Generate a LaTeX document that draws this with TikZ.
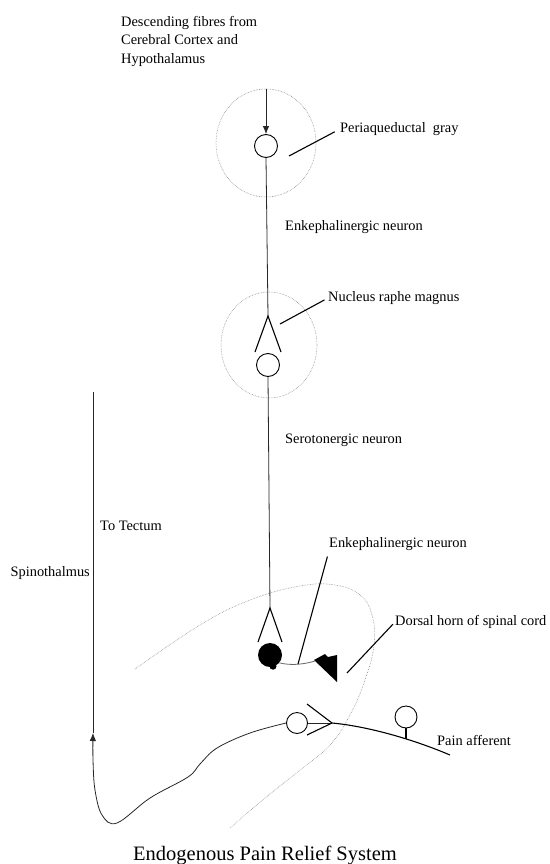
\documentclass[tikz,border=0pt]{standalone}
\usepackage{fontspec}
\setmainfont{Liberation Serif}
\usetikzlibrary{arrows.meta,shapes.geometric,calc}

\begin{document}
\begin{tikzpicture}[x=1pt,y=-1pt,
        RegionCfg/.style={
            ellipse,
            draw=black!45,
            densely dotted,
            line width=0.6pt,
            inner sep=0pt
        },
        SomaCfg/.style={circle,draw,line width=0.9pt,inner sep=0pt,minimum size=23pt},
        TxtCfg/.style={font=\fontsize{14.4}{18.5}\selectfont,inner sep=0pt},
        LeadCfg/.style={line width=1.1pt},
        AxonCfg/.style={draw=black!85,line width=0.8pt},
        DotCfg/.style={draw=black!45,densely dotted,line width=0.6pt}
    ]
    \useasboundingbox (0,0) rectangle (549,864);

    %descending fibres
    \node[TxtCfg,align=left,anchor=north west] (desc) at (121,16) {Descending fibres from\\Cerebral Cortex and\\Hypothalamus};
    \node[RegionCfg,minimum width=100pt,minimum height=108pt] (pag) at (266,143) {};
    \node[SomaCfg] (pagcell) at (266,146) {};
    \draw[AxonCfg,-{Latex[length=8pt,width=6.5pt]}] (pag.north)--(pagcell.north);
    \node[TxtCfg,anchor=west] (pagtxt) at (340,129) {Periaqueductal~ gray};
    \coordinate (pagpt) at (289,156);
    \draw[LeadCfg,shorten >=6pt] (pagpt)--(pagtxt.west);
    \node[TxtCfg,anchor=west] (enk1txt) at (285,227) {Enkephalinergic neuron};

    %nucleus raphe magnus
    \node[RegionCfg,minimum width=96pt,minimum height=106pt] (nrm) at (269,345) {};
    \coordinate (nrmY) at (268,316);
    \draw[AxonCfg] (pagcell.south)--(nrmY);
    \draw[LeadCfg] (nrmY)++(-13,36)--(nrmY)--++(13,36);
    \node[SomaCfg] (nrmcell) at (268,365) {};
    \node[TxtCfg,anchor=west] (nrmtxt) at (328,298) {Nucleus raphe magnus};
    \coordinate (nrmpt) at (280,324);
    \draw[LeadCfg,shorten >=4pt] (nrmpt)--(nrmtxt.west);
    \node[TxtCfg,anchor=west] (serotxt) at (285,440) {Serotonergic neuron};

    %dorsal horn
    \draw[DotCfg] plot[smooth,tension=0.7] coordinates {(135,669) (200,625) (250,600) (300,586) (335,585) (360,595) (372,615) (374,645) (365,680) (350,715) (330,745) (300,770) (265,798) (230,828)};
    \coordinate (dhY) at (270,608);
    \draw[AxonCfg] (nrmcell.south)--(dhY);
    \draw[LeadCfg] (dhY)++(-12,34)--(dhY)--++(12,34);
    \node[circle,fill,inner sep=0pt,minimum size=24pt] (enkcell) at (270,655) {};
    \fill (enkcell.south)++(3,-1) circle (3.5pt);
    \coordinate (synend) at (315,661);
    \draw[AxonCfg,draw=black!60] (enkcell.-40) .. controls (292,666) and (305,664) .. (synend);
    \fill (314,660)--++(11,-6)--++(3,3)--++(9,-2)--++(0,27)--cycle;
    \node[TxtCfg,anchor=west] (enk2txt) at (329,544) {Enkephalinergic neuron};
    \coordinate (enk2pt) at (298,664);
    \draw[LeadCfg,shorten >=6pt] (enk2pt)--(enk2txt.south west);
    \node[TxtCfg,anchor=west] (dhtxt) at (395,622) {Dorsal horn of spinal cord};
    \coordinate (dhpt) at (347,673);
    \draw[LeadCfg,shorten >=3pt] (dhpt)--(dhtxt.west);

    %pain afferent
    \node[SomaCfg,minimum size=21pt] (affcell) at (297,723) {};
    \coordinate (affY) at (332,723);
    \draw[AxonCfg] (affcell.east)--(affY);
    \draw[LeadCfg] (affY)--++(-25,-19) (affY)--++(-25,12);
    \coordinate (affend) at (450,755);
    \draw[LeadCfg] (affY) .. controls (365,726) and (410,738) .. (affend);
    \node[SomaCfg,minimum size=22pt] (colcell) at (406,717) {};
    \draw[line width=2pt] (colcell.south)--++(0,11);
    \node[TxtCfg,anchor=west] (afftxt) at (437,740) {Pain afferent};

    %spinothalamic tract
    \coordinate (sparrow) at (93,733);
    \coordinate (sptop) at (93,392);
    \draw[AxonCfg,-{Latex[length=8pt,width=6.5pt]}] plot[smooth,tension=0.6] coordinates {(affcell.west) (250,733) (217,748) (200,764) (188,777) (150,798) (117,823) (102,815) (95,790) (93,760) (sparrow)};
    \draw[AxonCfg] (sparrow)--(sptop);
    \node[TxtCfg,anchor=west] (tectxt) at (100,526) {To Tectum};
    \node[TxtCfg,anchor=east] (sptxt) at (90,573) {Spinothalmus};

    %title
    \node[font=\fontsize{20.5}{24}\selectfont,inner sep=0pt,anchor=base] (title) at (265,860) {Endogenous Pain Relief System};

\end{tikzpicture}
\end{document}
